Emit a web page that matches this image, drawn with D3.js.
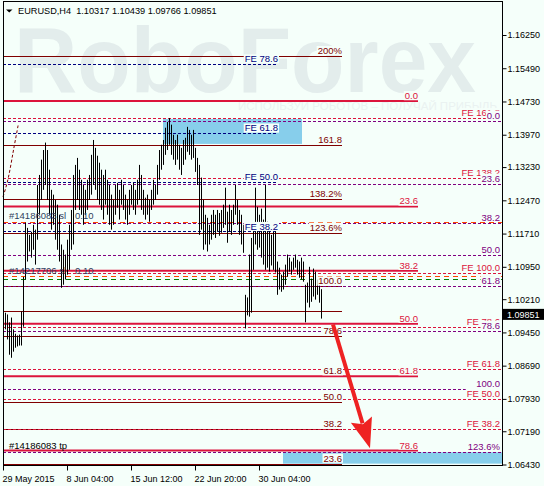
<!DOCTYPE html>
<html>
<head>
<meta charset="utf-8">
<script src="https://cdn.jsdelivr.net/npm/d3@7/dist/d3.min.js"></script>
<style>
body { margin: 0; background: #F5FFFA; }
svg { display: block; font-family: "Liberation Sans", Arial, sans-serif; }
</style>
</head>
<body>
<div id="chart"></div>
<script>
(function() {
// window size and plot frame
const W = 544, H = 486;
const frame = {left: 3, right: 502, top: 1, bottom: 465};
const bg = "#F5FFFA";

// title
const symbol = "EURUSD,H4";
const ohlc = ["1.10317", "1.10439", "1.09766", "1.09851"];
const lastPrice = 1.09851;

// axis ticks
const priceTicks = [1.16250, 1.15490, 1.14730, 1.13970, 1.13230, 1.12470, 1.11710,
                    1.10950, 1.10210, 1.09450, 1.08690, 1.07930, 1.07190, 1.06430];
const timeTickBars = [0, 32, 64, 96, 128];
const timeLabels = ["29 May 2015", "8 Jun 04:00", "15 Jun 12:00", "22 Jun 20:00", "30 Jun 04:00"];

// H4 bars, high and low
const barHigh = [
  1.0993,1.0990,1.0986,1.0968,1.0979,1.0952,1.0942,1.0938,1.0940,1.0993,
  1.1072,1.1196,1.1184,1.1168,1.1175,1.1191,1.1180,1.1282,1.1305,1.1340,
  1.1362,1.1379,1.1362,1.1317,1.1271,1.1260,1.1248,1.1237,1.1214,1.1146,
  1.1134,1.1123,1.1157,1.1191,1.1225,1.1305,1.1328,1.1344,1.1317,1.1294,
  1.1282,1.1271,1.1294,1.1305,1.1351,1.1385,1.1367,1.1349,1.1333,1.1317,
  1.1305,1.1317,1.1294,1.1282,1.1260,1.1248,1.1282,1.1287,1.1271,1.1294,
  1.1282,1.1260,1.1248,1.1271,1.1282,1.1287,1.1271,1.1294,1.1328,1.1305,
  1.1271,1.1253,1.1260,1.1248,1.1271,1.1294,1.1282,1.1328,1.1362,1.1374,
  1.1385,1.1413,1.1426,1.1435,1.1420,1.1397,1.1385,1.1397,1.1374,1.1367,
  1.1385,1.1390,1.1415,1.1408,1.1397,1.1408,1.1367,1.1344,1.1328,1.1299,
  1.1248,1.1214,1.1207,1.1191,1.1214,1.1225,1.1214,1.1225,1.1218,1.1225,
  1.1237,1.1276,1.1221,1.1237,1.1225,1.1237,1.1282,1.1248,1.1225,1.1214,
  1.1191,1.1031,1.1025,1.1123,1.1161,1.1184,1.1276,1.1232,1.1214,1.1228,
  1.1203,1.1282,1.1198,1.1184,1.1168,1.1175,1.1180,1.1107,1.1093,1.1077,
  1.1084,1.1100,1.1123,1.1116,1.1107,1.1116,1.1123,1.1111,1.1107,1.1116,
  1.1107,1.1054,1.1059,1.1095,1.1068,1.1091,1.1084,1.1066,1.1054,1.10439
];
const barLow = [
  1.0970,1.0952,1.0929,1.0894,1.0887,1.0901,1.0910,1.0913,1.0915,1.0915,
  1.0958,1.1066,1.1107,1.1130,1.1116,1.1134,1.1100,1.1157,1.1214,1.1248,
  1.1271,1.1282,1.1248,1.1214,1.1180,1.1191,1.1157,1.1134,1.1107,1.1047,
  1.1054,1.1066,1.1077,1.1088,1.1134,1.1146,1.1225,1.1248,1.1225,1.1214,
  1.1191,1.1214,1.1225,1.1248,1.1260,1.1282,1.1271,1.1248,1.1237,1.1225,
  1.1203,1.1237,1.1214,1.1191,1.1180,1.1191,1.1214,1.1230,1.1203,1.1237,
  1.1225,1.1203,1.1191,1.1214,1.1237,1.1225,1.1214,1.1237,1.1248,1.1225,
  1.1214,1.1203,1.1214,1.1198,1.1225,1.1237,1.1248,1.1260,1.1294,1.1317,
  1.1328,1.1351,1.1362,1.1374,1.1351,1.1340,1.1328,1.1340,1.1317,1.1305,
  1.1328,1.1340,1.1358,1.1351,1.1340,1.1344,1.1312,1.1282,1.1168,1.1180,
  1.1134,1.1146,1.1130,1.1146,1.1157,1.1168,1.1161,1.1175,1.1166,1.1173,
  1.1184,1.1191,1.1150,1.1175,1.1168,1.1191,1.1214,1.1191,1.1168,1.1146,
  1.1127,1.0954,1.0984,1.0981,1.0990,1.1088,1.1146,1.1134,1.1139,1.1116,
  1.1100,1.1088,1.1093,1.1084,1.1098,1.1088,1.1082,1.1031,1.1043,1.1038,
  1.1043,1.1054,1.1072,1.1084,1.1077,1.1088,1.1093,1.1077,1.1070,1.1066,
  1.1061,1.0968,1.1013,1.1002,1.1015,1.1027,1.1020,1.1031,1.1013,1.09766
];

// fibo retracement (maroon, solid)
const retPrices = [1.1577, 1.1374, 1.1251, 1.1173, 1.1050, 1.0995, 1.0936, 1.0845, 1.0785, 1.0725, 1.0645];
const retLabels = ["200%", "161.8", "138.2%", "123.6%", "100.0", "", "78.6", "61.8", "50.0", "38.2", "23.6"];
// fibo retracement (crimson, thick)
const ret2Prices = [1.1474, 1.1233, 1.1086, 1.0965, 1.0845, 1.0675];
const ret2Labels = ["0.0", "23.6", "38.2", "50.0", "61.8", "78.6"];
// fibo expansion (navy, dashed)
const feNavyPrices = [1.1559, 1.1401, 1.1290, 1.1176];
const feNavyLabels = ["FE 78.6", "FE 61.8", "FE 50.0", "FE 38.2"];
// fibo expansion (crimson, dashed)
const feRedPrices = [1.1435, 1.1298, 1.1081, 1.0958, 1.0862, 1.0793, 1.0725];
const feRedLabels = ["FE 161.8", "FE 138.2", "FE 100.0", "FE 78.6", "FE 61.8", "FE 50.0", "FE 38.2"];
// fibo retracement (purple, dashed)
const ret3Prices = [1.1429, 1.1285, 1.1196, 1.1123, 1.1051, 1.0949, 1.0816, 1.0671];
const ret3Labels = ["0.0", "23.6", "38.2", "50.0", "61.8", "78.6", "100.0", "123.6%"];

// order lines
const orderSl = 1.1197, orderOpen2 = 1.1074, orderSl2 = 1.1068;

// target zones [bar from, bar to, price top, price bottom]
const zones = [[80, 149.5, 1.1433, 1.1376], [140, 249.5, 1.0671, 1.0645]];

// forecast arrow [bar, price]
const arrowFrom = [165, 1.0963], arrowTo = [183.5, 1.0680];
// fibo arc fragment
const arcPts = [[0, 1.1255], [2.7, 1.1294], [5.2, 1.1362], [6.5, 1.1392], [7.7, 1.1422]];

const svg = d3.select("#chart").append("svg")
  .attr("width", W).attr("height", H);

svg.append("rect").attr("width", W).attr("height", H).attr("fill", bg);

const x = d3.scaleLinear().domain([0, 249.5]).range([frame.left, frame.right]);
const y = d3.scaleLinear().domain([1.0643, 1.1625]).range([464.5, 35]);
const py = p => Math.round(y(p)) + 0.5;

// watermark
svg.append("text")
  .attr("x", 14).attr("y", 92)
  .attr("font-size", 92).attr("font-weight", "bold").attr("fill", "#E3EDEC")
  .attr("textLength", 462).attr("lengthAdjust", "spacingAndGlyphs")
  .text("RoboForex");
svg.append("text")
  .attr("x", 238).attr("y", 110)
  .attr("font-size", 11).attr("fill", "#EAF2F1")
  .attr("textLength", 259).attr("lengthAdjust", "spacingAndGlyphs")
  .text("ИСПОЛЬЗУЙ РОБОТОВ – ПОЛУЧАЙ ПРИБЫЛЬ");

// zones
svg.append("g").selectAll("rect")
  .data(zones)
  .enter().append("rect")
    .attr("x", d => x(d[0]))
    .attr("y", d => y(d[2]))
    .attr("width", d => x(d[1]) - x(d[0]))
    .attr("height", d => y(d[3]) - y(d[2]))
    .attr("fill", "#87CEEB");

const lines = svg.append("g");
function hlines(prices, endBar, color, width, dash) {
  lines.append("g").selectAll("line")
    .data(prices)
    .enter().append("line")
      .attr("x1", frame.left).attr("x2", x(endBar))
      .attr("y1", d => width > 1 ? y(d) : py(d))
      .attr("y2", d => width > 1 ? y(d) : py(d))
      .attr("stroke", color)
      .attr("stroke-width", width)
      .attr("stroke-dasharray", dash);
}

// fibo arc piece
lines.append("path")
  .datum(arcPts)
  .attr("d", d3.line().x(d => x(d[0])).y(d => y(d[1])).curve(d3.curveBasis))
  .attr("fill", "none").attr("stroke", "#800000").attr("stroke-dasharray", "3,2");

hlines(retPrices, 169.5, "#800000", 1, null);
hlines(feNavyPrices, 137, "#000080", 1, "3,2");
hlines(feRedPrices, 249.5, "#DC143C", 1, "3,2");
hlines(ret3Prices, 249.5, "#800080", 1, "3,2");
hlines([orderSl, orderOpen2], 249.5, "#FF4500", 1, "5,4");
hlines([orderSl2], 249.5, "#008000", 1, "5,4");

// bars
svg.append("g").selectAll("line")
  .data(barHigh)
  .enter().append("line")
    .attr("x1", (d, i) => Math.round(x(i)) + 0.5)
    .attr("x2", (d, i) => Math.round(x(i)) + 0.5)
    .attr("y1", d => y(d))
    .attr("y2", (d, i) => y(barLow[i]))
    .attr("stroke", "#000")
    .attr("stroke-width", 1);

hlines(ret2Prices, 207.5, "#DC143C", 2, null);

// level labels with background
const labels = svg.append("g").attr("font-size", 9.5);
function levelLabels(prices, texts, xr, color, dy) {
  prices.forEach(function(p, i) {
    if (!texts[i]) return;
    let t = labels.append("text")
      .attr("x", xr).attr("y", y(p) - dy)
      .attr("text-anchor", "end")
      .attr("fill", color)
      .text(texts[i]);
    let w = t.node().getComputedTextLength();
    labels.insert("rect", () => t.node())
      .attr("x", xr - w - 1).attr("y", y(p) - dy - 8)
      .attr("width", w + 2).attr("height", 9.2)
      .attr("fill", bg);
  });
}
levelLabels(retPrices, retLabels, x(169.5), "#800000", 2);
levelLabels(ret2Prices, ret2Labels, x(207.5), "#DC143C", 2);
levelLabels(feNavyPrices, feNavyLabels, x(137.5), "#000080", 1.5);
levelLabels(feRedPrices, feRedLabels, frame.right - 2, "#DC143C", 2);
levelLabels(ret3Prices, ret3Labels, frame.right - 2, "#800080", 2);

// order labels
const orders = svg.append("g").attr("font-size", 9.5).attr("fill", "#2F3F5F");
orders.append("text").attr("x", 9).attr("y", y(orderSl) - 3).text("#14186083 sl");
orders.append("text").attr("x", 75).attr("y", y(orderSl) - 3).text("0.10");
orders.append("text").attr("x", 9).attr("y", y(orderOpen2) - 2).text("#14217706 sl");
orders.append("text").attr("x", 75).attr("y", y(orderOpen2) - 2).text("0.10");
orders.append("text").attr("x", 9).attr("y", y(ret2Prices[5]) - 2).attr("fill", "#000").text("#14186083 tp");

// forecast arrow
const ax0 = x(arrowFrom[0]), ay0 = y(arrowFrom[1]);
const ax1 = x(arrowTo[0]), ay1 = y(arrowTo[1]);
const len = Math.hypot(ax1 - ax0, ay1 - ay0);
const ux = (ax1 - ax0) / len, uy = (ay1 - ay0) / len;
const hl = 30, hw = 11;
const bx = ax1 - hl * ux, by = ay1 - hl * uy;
svg.append("line")
  .attr("x1", ax0).attr("y1", ay0)
  .attr("x2", bx + 4 * ux).attr("y2", by + 4 * uy)
  .attr("stroke", "#EE2222").attr("stroke-width", 4);
svg.append("path")
  .attr("d", d3.line()([[ax1, ay1], [bx - hw * uy, by + hw * ux], [bx + 5 * ux, by + 5 * uy], [bx + hw * uy, by - hw * ux]]) + "Z")
  .attr("fill", "#EE2222");

// frame and axes
svg.append("rect")
  .attr("x", frame.left + 0.5).attr("y", frame.top + 0.5)
  .attr("width", frame.right - frame.left).attr("height", frame.bottom - frame.top)
  .attr("fill", "none").attr("stroke", "#000");

const yAxis = svg.append("g")
  .attr("transform", "translate(" + (frame.right + 0.5) + ",0)")
  .call(d3.axisRight(y).tickValues(priceTicks).tickSize(4).tickPadding(1).tickFormat(d3.format(".5f")));
yAxis.select(".domain").remove();
yAxis.selectAll("text").attr("font-size", 9).attr("fill", "#000").attr("font-family", "Liberation Sans, Arial, sans-serif");

const xAxis = svg.append("g")
  .attr("transform", "translate(0," + (frame.bottom + 0.5) + ")");
timeTickBars.forEach(function(b, i) {
  let xx = Math.round(x(b)) + 0.5;
  xAxis.append("line").attr("x1", xx).attr("x2", xx).attr("y1", 0).attr("y2", 5).attr("stroke", "#000");
  xAxis.append("text").attr("x", xx - 1).attr("y", 16.5).attr("font-size", 9).text(timeLabels[i]);
});

// last price box
svg.append("rect")
  .attr("x", frame.right + 1).attr("y", y(lastPrice) - 6)
  .attr("width", W - frame.right - 1).attr("height", 11)
  .attr("fill", "#000");
svg.append("text")
  .attr("x", frame.right + 5).attr("y", y(lastPrice) + 3.3)
  .attr("font-size", 9).attr("fill", "#fff")
  .text(d3.format(".5f")(lastPrice));

// title
svg.append("path").attr("d", "M6,9.5L12.5,9.5L9.25,12.5Z").attr("fill", "#000");
svg.append("text")
  .attr("x", 18).attr("y", 14)
  .attr("font-size", 9.2).attr("fill", "#000")
  .attr("xml:space", "preserve")
  .text(symbol + "  " + ohlc.join(" "));
})();
</script>
</body>
</html>
